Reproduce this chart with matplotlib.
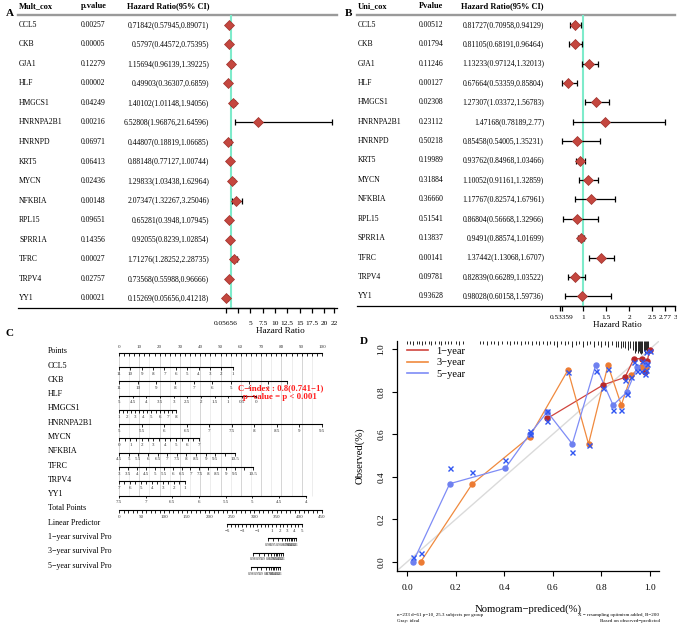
import numpy as np
import matplotlib.pyplot as plt
from matplotlib.lines import Line2D

W, H = 677, 627
plt.rcParams['font.family'] = ['Liberation Serif', 'DejaVu Serif']
plt.rcParams['axes.unicode_minus'] = True

# ─── Data: A (multivariate cox) ───
genes = ["CCL5", "CKB", "GJA1", "HLF", "HMGCS1", "HNRNPA2B1", "HNRNPD", "KRT5",
         "MYCN", "NFKBIA", "RPL15", "SPRR1A", "TFRC", "TRPV4", "YY1"]
mult_p = ["0.00257", "0.00005", "0.12279", "0.00002", "0.04249", "0.00216", "0.06971",
          "0.06413", "0.02436", "0.00148", "0.09651", "0.14356", "0.00027", "0.02757", "0.00021"]
mult_hr = [0.71842, 0.5797, 1.15694, 0.49903, 1.40102, 6.52808, 0.44807, 0.88148,
           1.29833, 2.07347, 0.65281, 0.92055, 1.71276, 0.73568, 0.15269]
mult_lo = [0.57945, 0.44572, 0.96139, 0.36307, 1.01148, 1.96876, 0.18819, 0.77127,
           1.03438, 1.32267, 0.3948, 0.8239, 1.28252, 0.55988, 0.05656]
mult_hi = [0.89071, 0.75395, 1.39225, 0.6859, 1.94056, 21.64596, 1.06685, 1.00744,
           1.62964, 3.25046, 1.07945, 1.02854, 2.28735, 0.96666, 0.41218]
mult_ticks = [0.05656, 2.5, 5, 7.5, 10, 12.5, 15, 17.5, 20, 22]
mult_ticklabels = ["0.05656", "", "5", "7.5", "10", "12.5", "15", "17.5", "20", "22"]

# ─── Data: B (univariate cox) ───
uni_p = ["0.00512", "0.01794", "0.11246", "0.00127", "0.02308", "0.23112", "0.50218",
         "0.19989", "0.31884", "0.36660", "0.51541", "0.13837", "0.00141", "0.09781", "0.93628"]
uni_hr = [0.81727, 0.81105, 1.13233, 0.67664, 1.27307, 1.47168, 0.85458, 0.93762,
          1.10052, 1.17767, 0.86804, 0.9491, 1.37442, 0.82839, 0.98028]
uni_lo = [0.70958, 0.68191, 0.97124, 0.53359, 1.03372, 0.78189, 0.54005, 0.84968,
          0.91161, 0.82574, 0.56668, 0.88574, 1.13068, 0.66289, 0.60158]
uni_hi = [0.94129, 0.96464, 1.32013, 0.85804, 1.56783, 2.77, 1.35231, 1.03466,
          1.32859, 1.67961, 1.32966, 1.01699, 1.6707, 1.03522, 1.59736]
uni_ticks = [0.5, 0.53359, 1, 1.5, 2, 2.5, 2.77, 3]
uni_ticklabels = ["", "0.53359", "1", "1.5", "2", "2.5", "2.77", "3"]

# ─── Data: C (nomogram) ───
nomo_vars = ["CCL5", "CKB", "HLF", "HMGCS1", "HNRNPA2B1", "MYCN", "NFKBIA", "TFRC", "TRPV4", "YY1"]
nomo_v0 = [11, 11, 5, 1, 5, 0, 4.5, 3, 7, 7.5]        # value at 0 points
nomo_v1 = [1, 2, 0, 8, 9.5, 7, 10.5, 10.5, 1, 4]      # value at the end of the scale
nomo_pmax = [56, 82.6, 67.3, 28, 100, 39.4, 57, 66, 32.5, 92]
nomo_tstep = [1, 1, 0.5, 0.5, 0.5, 0.5, 0.5, 0.5, 0.5, 0.5]
nomo_labels = [
    [11, 10, 9, 8, 7, 6, 5, 4, 3, 2, 1],
    [11, 10, 9, 8, 7, 6, 5, 4, 3],
    [5, 4.5, 4, 3.5, 3, 2.5, 2, 1.5, 1, 0.5, 0],
    [1, 2, 3, 4, 5, 6, 7, 8],
    [5, 5.5, 6, 6.5, 7, 7.5, 8, 8.5, 9, 9.5],
    [0, 1, 2, 3, 4, 5, 6, 7],
    [4.5, 5, 5.5, 6, 6.5, 7, 7.5, 8, 8.5, 9, 9.5, 10.5],
    [3, 3.5, 4, 4.5, 5, 5.5, 6, 6.5, 7, 7.5, 8, 8.5, 9, 9.5, 10.5],
    [7, 6, 5, 4, 3, 2, 1],
    [7.5, 7, 6.5, 6, 5.5, 5, 4.5, 4],
]
total_max = 450
lp_lo, lp_hi = -5, 5
lp_tp = [240, 406]                       # total points at lp_lo / lp_hi
lp_labels = [-5, -3, -1, 1, 2, 3, 4, 5]
surv_names = ["1\u2212year survival Pro", "3\u2212year survival Pro", "5\u2212year survival Pro"]
surv_tp0 = [330, 297, 293]               # total points at 0.98
surv_tp1 = [393, 364, 357]               # total points at 0.1
surv_ticks = [0.98, 0.95, 0.9, 0.8, 0.7, 0.6, 0.5, 0.4, 0.3, 0.2, 0.1]

# ─── Data: D (calibration) ───
y1_x = [0.578, 0.809, 0.898, 0.935, 0.967, 0.980, 0.990, 1.000]
y1_y = [0.675, 0.833, 0.868, 0.956, 0.956, 0.894, 0.945, 0.999]
y1_c = [0.665, 0.820, 0.855, 0.940, 0.945, 0.885, 0.930, 0.990]
y3_x = [0.056, 0.268, 0.505, 0.663, 0.748, 0.828, 0.883, 0.925, 0.963, 0.986]
y3_y = [0.000, 0.366, 0.588, 0.902, 0.555, 0.925, 0.738, 0.880, 0.917, 0.917]
y3_c = [0.040, 0.422, 0.600, 0.895, 0.548, 0.906, 0.714, 0.868, 0.900, 0.905]
y5_x = [0.025, 0.176, 0.405, 0.505, 0.578, 0.681, 0.777, 0.849, 0.905, 0.949, 0.985]
y5_y = [0.000, 0.368, 0.441, 0.600, 0.706, 0.555, 0.924, 0.738, 0.797, 0.917, 0.933]
y5_c = [0.025, 0.440, 0.480, 0.615, 0.710, 0.515, 0.899, 0.714, 0.790, 0.900, 0.987]
rug_x = [0.00, 0.012, 0.025, 0.04, 0.05, 0.062, 0.075, 0.09, 0.10, 0.115, 0.13, 0.14, 0.155,
         0.17, 0.18, 0.20, 0.215, 0.23, 0.30, 0.315, 0.33, 0.345, 0.36, 0.375, 0.39,
         0.41, 0.425, 0.44, 0.455, 0.47, 0.485, 0.50, 0.515, 0.53, 0.545, 0.56, 0.575,
         0.59, 0.605, 0.62, 0.635, 0.65, 0.665, 0.68, 0.695, 0.71, 0.725, 0.74, 0.755,
         0.77, 0.785, 0.80, 0.815, 0.83, 0.845, 0.86, 0.87, 0.88, 0.89, 0.90, 0.91,
         0.92, 0.93, 0.94, 0.945, 0.95, 0.955, 0.96, 0.965, 0.97, 0.975, 0.98, 0.985,
         0.99, 0.995]
rug_h = [1, 1, 1.5, 1, 1, 1.5, 1, 1, 1.5, 1, 1, 1.5, 1, 1, 1, 1, 1.5, 1, 1, 1, 1.5, 1, 1,
         1.5, 1, 1, 1.5, 1, 1, 1.5, 1, 1, 1.5, 1, 1.5, 1, 1.5, 1, 1.5, 2, 1, 1.5, 1, 2, 1.5,
         1, 2, 1.5, 1, 2, 1.5, 2, 1.5, 2, 1.5, 2, 2, 2.5, 2, 2.5, 3, 2.5, 3, 4, 3.5, 4,
         3.5, 4, 4.5, 4, 3.5, 4, 3, 3.5, 2.5]

RED = "#C4473F"
C1, C3, C5 = "#B8282A", "#EC7B33", "#6E80F0"
L1, L3, L5 = "#D0453E", "#F08A3E", "#7E8CF6"
XBLUE = "#2F55F2"
AQUA = "#7EEBCB"

fig = plt.figure(figsize=(W / 100, H / 100), dpi=100)


def px_axes(l, t, r, b):
    return fig.add_axes([l / W, 1 - b / H, (r - l) / W, (b - t) / H])


def forest(top, bot, xl, xr, cols, heads, pv, hr, lo, hi, fl, fr, xlim, ticks, tlabels, pad):
    n = len(genes)
    step = (bot - top) / n
    tb = px_axes(0, top, W, bot)
    tb.set_xlim(0, W)
    tb.set_ylim(n - 0.5, -0.5)
    tb.axis('off')
    tb.plot([xl, xr], [-0.5, -0.5], color="#9A9A9A", lw=1.7, clip_on=False)
    tb.plot([xl, xr], [n - 0.5, n - 0.5], color="black", lw=0.9, clip_on=False)
    hy = -0.5 - (top - 6) / step
    tb.text(cols[0], hy, heads[0], fontsize=6, fontweight='bold', va='center')
    tb.text(cols[1], hy, heads[1], fontsize=6, fontweight='bold', va='center')
    tb.text(cols[3], hy, heads[2], fontsize=6, fontweight='bold', va='center')
    for i in range(n):
        tb.text(cols[0], i, genes[i], fontsize=5.5, va='center')
        tb.text(cols[1], i, pv[i], fontsize=5.5, va='center')
        tb.text(cols[2], i, f"{hr[i]}({lo[i]},{hi[i]})", fontsize=5.5, va='center', ha='right')

    fa = px_axes(fl, top, fr, bot)
    fa.patch.set_alpha(0)
    fa.set_xlim(*xlim)
    fa.set_ylim(n - 0.5, -0.5)
    for s in ['top', 'right', 'left']:
        fa.spines[s].set_visible(False)
    fa.spines['bottom'].set_linewidth(0.9)
    fa.set_yticks([])
    fa.set_xticks(ticks)
    fa.set_xticklabels(tlabels)
    fa.tick_params(axis='x', direction='out', length=3.5, width=0.9, labelsize=5.3, pad=pad)
    fa.axvline(1, color=AQUA, lw=1.5, zorder=1)
    rows = np.arange(n)
    hr_a, lo_a, hi_a = np.array(hr), np.array(lo), np.array(hi)
    fa.errorbar(hr_a, rows, xerr=[hr_a - lo_a, hi_a - hr_a], fmt='none', ecolor='black',
                elinewidth=0.9, capsize=2.3, capthick=0.9, zorder=2, clip_on=False)
    fa.plot(hr_a, rows, 'D', ms=5, color=RED, mec="#9E2F29", mew=0.5, zorder=3, clip_on=False)
    fa.set_xlabel("Hazard Ratio", fontsize=6.6, labelpad=0.5)
    return fa


forest(15, 308, 18, 337, (19, 81, 209, 127), ("Mult_cox", "p.value", "Hazard Ratio(95% CI)"),
       mult_p, mult_hr, mult_lo, mult_hi, 226, 334, (0.05656, 22), mult_ticks, mult_ticklabels, 6)
forest(15, 306, 357, 675, (358, 419, 544, 461), ("Uni_cox", "Pvalue", "Hazard Ratio(95% CI)"),
       uni_p, uni_hr, uni_lo, uni_hi, 560.3, 675.3, (0.5, 3), uni_ticks, uni_ticklabels, 3)

fig.text(6 / W, 1 - 13 / H, "A", fontsize=8, fontweight='bold', va='center')
fig.text(345 / W, 1 - 13 / H, "B", fontsize=8, fontweight='bold', va='center')
fig.text(6 / W, 1 - 333 / H, "C", fontsize=8, fontweight='bold', va='center')
fig.text(360 / W, 1 - 341 / H, "D", fontsize=8, fontweight='bold', va='center')

# ─── C: nomogram ───
axC = px_axes(119, 338.4, 322, 581.3)
axC.set_xlim(0, 100)
axC.set_ylim(16, -1)
axC.axis('off')
TK = 0.2     # tick length (rows)
LB = 0.47    # label offset (rows)
LBL_X = -35


def fmt(v):
    return f"{v:g}"


def nomo_row(row, x0, x1, tick_x, lab_x, labs, above=False, lsize=3.6):
    axC.plot([x0, x1], [row, row], color='black', lw=0.8, clip_on=False)
    axC.vlines(tick_x, row, row + TK, color='black', lw=0.6, clip_on=False)
    ly = row - 0.42 if above else row + LB
    for x, s in zip(lab_x, labs):
        axC.text(x, ly, s, fontsize=lsize, ha='center', va='center', color='#333333', clip_on=False)


# grid
axC.vlines(np.arange(0, 101, 5), 0, 10, color='#E6E6E6', lw=0.5, zorder=0)
axC.vlines(np.arange(0, 101, 10), 0, 10, color='#D2D2D2', lw=0.6, zorder=0)

axC.text(LBL_X, 0 - 0.1, "Points", fontsize=5.8, va='center')
nomo_row(0, 0, 100, np.arange(0, 100.1, 2.5), np.arange(0, 101, 10),
         [str(v) for v in range(0, 101, 10)], above=True)

for i, name in enumerate(nomo_vars):
    r = i + 1
    v0, v1, pm = nomo_v0[i], nomo_v1[i], nomo_pmax[i]
    sgn = 1 if v1 > v0 else -1
    tv = np.arange(v0, v1 + sgn * 1e-9, sgn * nomo_tstep[i])
    pos = lambda v: (np.asarray(v, float) - v0) / (v1 - v0) * pm
    axC.text(LBL_X, r - 0.1, name, fontsize=5.8, va='center')
    nomo_row(r, 0, pm, pos(tv), pos(nomo_labels[i]), [fmt(v) for v in nomo_labels[i]])

sc = 100 / total_max
axC.text(LBL_X, 11 - 0.1, "Total Points", fontsize=5.8, va='center')
nomo_row(11, 0, 100, np.arange(0, total_max + 1, 10) * sc, np.arange(0, total_max + 1, 50) * sc,
         [str(v) for v in range(0, total_max + 1, 50)])

lp_pos = lambda v: (lp_tp[0] + (np.asarray(v, float) - lp_lo) / (lp_hi - lp_lo) * (lp_tp[1] - lp_tp[0])) * sc
axC.text(LBL_X, 12 - 0.1, "Linear Predictor", fontsize=5.8, va='center')
nomo_row(12, lp_pos(lp_lo), lp_pos(lp_hi), lp_pos(np.arange(lp_lo, lp_hi + 0.01, 0.5)),
         lp_pos(lp_labels), [f"{v:g}".replace('-', '\u2212') for v in lp_labels])

cc = np.log(-np.log(np.array(surv_ticks)))
for k, name in enumerate(surv_names):
    r = 13 + k
    pos = (surv_tp0[k] + (cc - cc[0]) / (cc[-1] - cc[0]) * (surv_tp1[k] - surv_tp0[k])) * sc
    axC.text(LBL_X, r - 0.1, name, fontsize=5.8, va='center')
    nomo_row(r, pos[0], pos[-1], pos, pos, [fmt(v) for v in surv_ticks], lsize=2.8)

axC.text(79.5, 2.45, "C\u2212index : 0.8(0.741\u22121)", fontsize=6.3, fontweight='bold',
         color='#FF1A1A', ha='center', va='center')
axC.text(79.5, 3.08, "p\u2212value = p < 0.001", fontsize=6.3, fontweight='bold',
         color='#FF1A1A', ha='center', va='center')

# ─── D: calibration ───
axD = px_axes(397.3, 340.8, 659.4, 570.5)
axD.set_xlim(-0.04, 1.04)
axD.set_ylim(-0.04, 1.04)
for s in ['top', 'right']:
    axD.spines[s].set_visible(False)
for s in ['left', 'bottom']:
    axD.spines[s].set_linewidth(0.9)
axD.plot([-0.04, 1.04], [-0.04, 1.04], color='#DADADA', lw=1, zorder=1)
axD.set_xticks(np.arange(0, 1.01, 0.2))
axD.set_yticks(np.arange(0, 1.01, 0.2))
axD.set_xticklabels([f"{v:.1f}" for v in np.arange(0, 1.01, 0.2)])
axD.set_yticklabels([f"{v:.1f}" for v in np.arange(0, 1.01, 0.2)], rotation=90, va='center')
axD.tick_params(direction='out', length=3.5, width=0.8, labelsize=6.7)
axD.tick_params(axis='x', pad=6.5)
axD.tick_params(axis='y', pad=5)

axD.vlines(rug_x, 1.04 - np.array(rug_h) * 0.014, 1.04, color='black', lw=0.6, clip_on=False)

for xs, ys, yc, lc, pc in [(y1_x, y1_y, y1_c, L1, C1), (y3_x, y3_y, y3_c, L3, C3), (y5_x, y5_y, y5_c, L5, C5)]:
    axD.plot(xs, ys, color=lc, lw=0.9, zorder=2)
    axD.plot(xs, ys, 'o', ms=3.6, color=pc, zorder=3)
    axD.plot(xs, yc, 'x', ms=3.6, mew=1.0, color=XBLUE, zorder=4)

handles = [Line2D([], [], color=L1, lw=1.2), Line2D([], [], color=L3, lw=1.2), Line2D([], [], color=L5, lw=1.2)]
axD.legend(handles, ["1\u2212year", "3\u2212year", "5\u2212year"], loc='upper left',
           bbox_to_anchor=(0.036, 0.975), frameon=False, fontsize=7.5, handlelength=2.0,
           handletextpad=0.85, labelspacing=0.2, borderpad=0, borderaxespad=0)

axD.set_xlabel("Nomogram\u2212prediced(%)", fontsize=7.7)
axD.xaxis.set_label_coords(0.5, (570.5 - 608.7) / 229.7)
axD.xaxis.label.set_va('center')
axD.set_ylabel("Observed(%)", fontsize=7.7)
axD.yaxis.set_label_coords((360 - 397.3) / 262.1, 0.5)
axD.yaxis.label.set_va('center')

fig.text(397 / W, 1 - 614.5 / H, "n=233 d=61 p=10, 25.3 subjects per group", fontsize=3.6, va='center')
fig.text(397 / W, 1 - 621 / H, "Gray: ideal", fontsize=3.6, va='center')
fig.text(659.5 / W, 1 - 614.5 / H, "X \u2212 resampling optimism added, B=200", fontsize=3.6,
         va='center', ha='right')
fig.text(659.5 / W, 1 - 621 / H, "Based on observed\u2212predicted", fontsize=3.6, va='center', ha='right')

fig.savefig("out.png", dpi=100, facecolor='white')
